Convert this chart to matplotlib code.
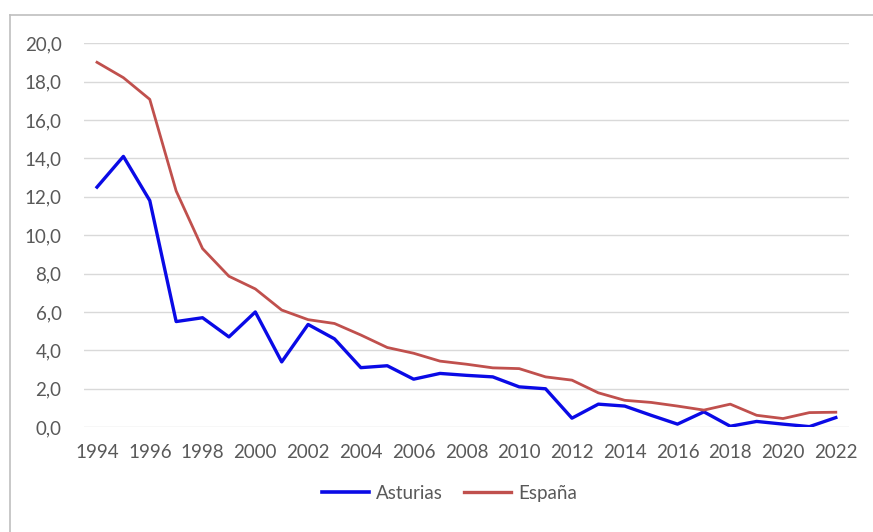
import matplotlib.pyplot as plt
from matplotlib.lines import Line2D

# Datos
years = list(range(1994, 2023))
asturias = [12.5, 14.1, 11.8, 5.5, 5.7, 4.7, 6.0, 3.4, 5.35, 4.6, 3.1, 3.2, 2.5, 2.8,
            2.7, 2.62, 2.1, 2.0, 0.47, 1.2, 1.1, 0.62, 0.16, 0.8, 0.05, 0.3, 0.16, 0.03, 0.5]
espana = [19.0, 18.2, 17.07, 12.3, 9.3, 7.86, 7.2, 6.1, 5.6, 5.4, 4.8, 4.15, 3.85, 3.44,
          3.28, 3.09, 3.05, 2.62, 2.45, 1.79, 1.4, 1.29, 1.1, 0.89, 1.2, 0.62, 0.45, 0.76, 0.78]
y_ticks = [0, 2, 4, 6, 8, 10, 12, 14, 16, 18, 20]
x_ticks = list(range(1994, 2023, 2))

plt.rcParams['font.family'] = ['Lato', 'DejaVu Sans']

fig = plt.figure(figsize=(8.73, 5.32), dpi=100)
ax = fig.add_axes([0.096, 0.197, 0.8765, 0.722])

ax.plot(years, asturias, color='#0A0AE6', linewidth=2.4, label='Asturias', zorder=3)
ax.plot(years, espana, color='#C0504D', linewidth=2.0, label='España', zorder=3)

ax.set_xlim(1993.5, 2022.5)
ax.set_ylim(0, 20)
ax.set_yticks(y_ticks)
ax.set_yticklabels([f'{v:.1f}'.replace('.', ',') for v in y_ticks])
ax.set_xticks(x_ticks)
ax.set_xticklabels([str(v) for v in x_ticks])
ax.tick_params(axis='both', length=0, labelsize=13.5, colors='#595959')
ax.tick_params(axis='x', pad=12)
ax.tick_params(axis='y', pad=16)
ax.grid(axis='y', color='#D9D9D9', linewidth=1)
ax.set_axisbelow(True)
for s in ax.spines.values():
    s.set_visible(False)

fig.legend(handles=[Line2D([], [], color='#0A0AE6', linewidth=2.6),
                    Line2D([], [], color='#C0504D', linewidth=2.4)],
           labels=['Asturias', 'España'], loc='center', bbox_to_anchor=(0.515, 0.073),
           ncol=2, frameon=False, fontsize=13.5, labelcolor='#595959',
           handlelength=2.5, handletextpad=0.4, columnspacing=1.1)

# Marco exterior
fig.add_artist(Line2D([10 / 873, 1], [1 - 15 / 532, 1 - 15 / 532], color='#BFBFBF', linewidth=1.2))
fig.add_artist(Line2D([10 / 873, 10 / 873], [0, 1 - 15 / 532], color='#BFBFBF', linewidth=1.2))

plt.savefig('out.png', dpi=100)
